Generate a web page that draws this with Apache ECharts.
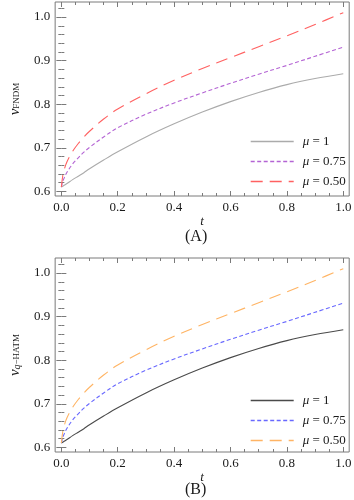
<!DOCTYPE html>
<html>
<head>
<meta charset="utf-8">
<script src="https://cdn.jsdelivr.net/npm/echarts@6/dist/echarts.min.js"></script>
<style>
  html, body { margin: 0; padding: 0; background: #fff; }
  #chart { width: 354px; height: 500px; }
</style>
</head>
<body>
<div id="chart"></div>
<script>
// t samples shared by all curves
const tValues = [0, 0.005, 0.01, 0.02, 0.04, 0.06, 0.08, 0.1, 0.15, 0.2, 0.3, 0.4, 0.5, 0.6, 0.7, 0.8, 0.9, 1.0];
// mu = 1
const mu100 = [0.61, 0.612, 0.614, 0.618, 0.627, 0.635, 0.643, 0.652, 0.672, 0.691, 0.725, 0.755, 0.782, 0.806, 0.827, 0.845, 0.859, 0.870];
// mu = 0.75
const mu075 = [0.61, 0.623, 0.631, 0.644, 0.663, 0.677, 0.690, 0.701, 0.725, 0.746, 0.777, 0.803, 0.826, 0.848, 0.869, 0.889, 0.910, 0.931];
// mu = 0.50
const mu050 = [0.61, 0.636, 0.650, 0.668, 0.692, 0.710, 0.725, 0.738, 0.766, 0.789, 0.824, 0.855, 0.882, 0.907, 0.932, 0.957, 0.983, 1.010];

const legendNames = ["1", "0.75", "0.50"];
const xMajor = [0, 0.2, 0.4, 0.6, 0.8, 1.0];
const xMinor = [0.05, 0.1, 0.15, 0.25, 0.3, 0.35, 0.45, 0.5, 0.55, 0.65, 0.7, 0.75, 0.85, 0.9, 0.95];
const yMajor = [0.6, 0.7, 0.8, 0.9, 1.0];
const yMinor = [0.62, 0.64, 0.66, 0.68, 0.72, 0.74, 0.76, 0.78, 0.82, 0.84, 0.86, 0.88, 0.92, 0.94, 0.96, 0.98, 1.02];

const frameColor = "#7a7a7a";
const textColor = "#1a1a1a";
const serif = "Liberation Serif";

function pairs(ys) {
  return tValues.map((t, i) => [t, ys[i]]);
}

// 4 x axes per grid: bottom major/minor, top major/minor
function xAxesFor(g) {
  const base = { type: "value", gridIndex: g, min: -0.022, max: 1.021, splitLine: { show: false }, axisLine: { show: false } };
  const tick = (vals, len) => ({ show: true, inside: true, length: len, customValues: vals, lineStyle: { color: frameColor, width: 1 } });
  return [
    Object.assign({}, base, {
      position: "bottom",
      axisTick: tick(xMajor, 5),
      axisLabel: { customValues: xMajor, formatter: (v) => v.toFixed(1), color: textColor, fontFamily: serif, fontSize: 13, margin: 5 },
      name: "t",
      nameLocation: "middle",
      nameGap: 17,
      nameTextStyle: { fontFamily: serif, fontStyle: "italic", fontSize: 13, color: textColor },
    }),
    Object.assign({}, base, { position: "bottom", axisTick: tick(xMinor, 3), axisLabel: { show: false } }),
    Object.assign({}, base, { position: "top", axisTick: tick(xMajor, 5), axisLabel: { show: false } }),
    Object.assign({}, base, { position: "top", axisTick: tick(xMinor, 3), axisLabel: { show: false } }),
  ];
}

function yAxesFor(g, name) {
  const base = { type: "value", gridIndex: g, min: 0.5895, max: 1.0345, splitLine: { show: false }, axisLine: { show: false } };
  const tick = (vals, len) => ({ show: true, inside: true, length: len, customValues: vals, lineStyle: { color: frameColor, width: 1 } });
  return [
    Object.assign({}, base, {
      position: "left",
      axisTick: tick(yMajor, 5),
      axisLabel: { customValues: yMajor, formatter: (v) => v.toFixed(1), color: textColor, fontFamily: serif, fontSize: 13, margin: 5 },
      name: name,
      nameLocation: "middle",
      nameRotate: 90,
      nameGap: 22,
      nameTextStyle: {
        color: textColor,
        fontFamily: serif,
        rich: {
          v: { fontFamily: serif, fontStyle: "italic", fontSize: 15, color: textColor, padding: [0, 0, 3, 0] },
          q: { fontFamily: serif, fontStyle: "italic", fontSize: 10, color: textColor },
          s: { fontFamily: serif, fontSize: 9, color: textColor },
        },
      },
    }),
    Object.assign({}, base, { position: "left", axisTick: tick(yMinor, 3), axisLabel: { show: false } }),
    Object.assign({}, base, { position: "right", axisTick: tick(yMajor, 5), axisLabel: { show: false } }),
    Object.assign({}, base, { position: "right", axisTick: tick(yMinor, 3), axisLabel: { show: false } }),
  ];
}

function line(id, g, ys, color, dash) {
  return {
    name: id,
    type: "line",
    xAxisIndex: g * 4,
    yAxisIndex: g * 4,
    data: pairs(ys),
    symbol: "none",
    smooth: 0.35,
    lineStyle: { color: color, width: 1.1, type: dash },
    itemStyle: { color: color },
  };
}

const seriesA = [
  line("A0", 0, mu100, "#ababab", "solid"),
  line("A1", 0, mu075, "#b464d4", [4, 2.5]),
  line("A2", 0, mu050, "#ff6161", [12, 7]),
];
const seriesB = [
  line("B0", 1, mu100, "#4a4a4a", "solid"),
  line("B1", 1, mu075, "#6868ff", [4, 2.5]),
  line("B2", 1, mu050, "#ffb464", [12, 7]),
];

function legendFor(ids, top) {
  return {
    data: ids,
    orient: "vertical",
    left: 245,
    top: top,
    itemWidth: 43,
    itemHeight: 14,
    itemGap: 7,
    itemStyle: { opacity: 0 },
    lineStyle: { width: 1.4 },
    formatter: (n) => "{m|μ} = " + legendNames[Number(n.slice(1))],
    textStyle: {
      fontFamily: serif, fontSize: 13, color: textColor, padding: [0, 0, 0, 4],
      rich: { m: { fontFamily: serif, fontStyle: "italic", fontSize: 13, color: textColor } },
    },
    selectedMode: false,
  };
}

const chart = echarts.init(document.getElementById("chart"), null, { renderer: "canvas" });
chart.setOption({
  animation: false,
  backgroundColor: "#fff",
  grid: [
    { left: 35, top: 2, width: 317, height: 194, show: true, borderColor: frameColor, borderWidth: 1, backgroundColor: "transparent" },
    { left: 35, top: 258, width: 317, height: 194, show: true, borderColor: frameColor, borderWidth: 1, backgroundColor: "transparent" },
  ],
  xAxis: [...xAxesFor(0), ...xAxesFor(1)],
  yAxis: [...yAxesFor(0, "{v|ν}{s|FNDM}"), ...yAxesFor(1, "{v|ν}{q|q}{s|−HATM}")],
  legend: [legendFor(["A0", "A1", "A2"], 130), legendFor(["B0", "B1", "B2"], 389)],
  graphic: [
    { type: "text", left: 185, top: 229, style: { text: "(A)", font: "16px 'Liberation Serif'", fill: textColor } },
    { type: "text", left: 185, top: 482, style: { text: "(B)", font: "16px 'Liberation Serif'", fill: textColor } },
  ],
  series: [...seriesA, ...seriesB],
});
</script>
</body>
</html>
